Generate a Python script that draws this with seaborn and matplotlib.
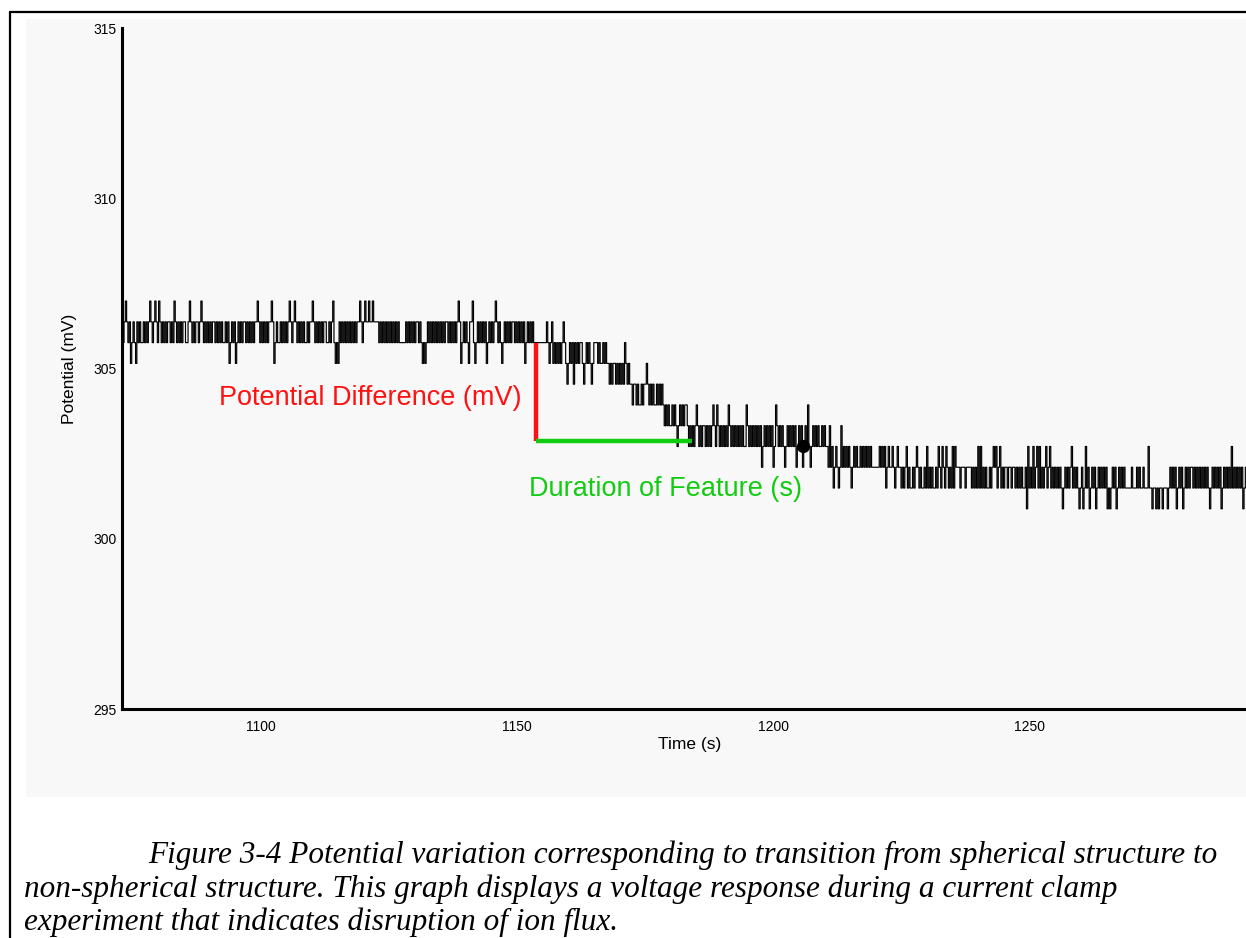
import numpy as np
import pandas as pd
import matplotlib
matplotlib.use("Agg")
import matplotlib.pyplot as plt
import seaborn as sns
from matplotlib.lines import Line2D
from matplotlib.patches import Rectangle
from matplotlib.ticker import MultipleLocator

# Quantised potential levels of the recording (mV); codes 0-9 and 'a' (=10)
levels_mv = [306.98, 306.37, 305.76, 305.15, 304.54, 303.93,
             303.32, 302.71, 302.10, 301.49, 300.88]

t_start = 1073.0   # s, first sample
dt = 0.25          # s between samples

# Level code of each sample, one row per 10 s (40 samples)
trace_codes = [
    "2101213212" "3121221212" "1012101201" "2121211212",
    "0121212112" "2101212112" "1012121212" "1121212122",
    "1213212132" "1212112121" "2121101212" "1212110132",
    "1221212121" "0121012121" "2122121101" "2121212112",
    "2121023231" "2121212121" "2121101210" "1101101111",
    "2121212121" "2121212222" "2121212121" "1212323212",
    "1212121212" "1211212121" "2101321212" "3110232121",
    "2121321212" "1012123212" "1212112121" "2121321212",
    "1222222222" "2123213232" "3232123432" "3242323223",
    "4323234322" "2323323233" "4343343434" "3423434454",
    "4545545443" "4545455454" "5456565665" "6567656565",
    "5676767656" "7676676767" "6567567676" "7675676767",
    "6767677567" "6767676768" "7676767687" "5676767876",
    "7676768767" "6876757876" "7676776767" "7868798789",
    "8687878789" "8787887878" "7878788888" "8787879878",
    "8789878898" "9879899898" "7898998979" "8989989789",
    "7897898979" "7888988898" "8889898979" "7989899898",
    "7879879898" "8988988989" "898998a798" "9798797989",
    "8798798989" "8989a98989" "8798989a98" "a9798a9898",
    "a98989898a" "9a9898a989" "8989999989" "9989899899",
    "9799a99a9a" "99a999a989" "898a9898a9" "8989889898",
    "989898989a" "98989898a9" "8989897989" "89898a9898",
]

# Marked sample on the trace
dot_time = 1205.9
dot_mv = 302.71

# Feature annotation: start time, start/end potential, end time
feature_start = 1153.7
feature_top_mv = 305.76
feature_bottom_mv = 302.87
feature_end = 1184.2

x_ticks = [1100, 1150, 1200, 1250]
y_ticks = [295, 300, 305, 310, 315]
x_label = "Time (s)"
y_label = "Potential (mV)"
diff_label = "Potential Difference (mV)"
dur_label = "Duration of Feature (s)"
caption_lines = [
    "Figure 3-4 Potential variation corresponding to transition from spherical structure to",
    "non-spherical structure. This graph displays a voltage response during a current clamp",
    "experiment that indicates disruption of ion flux.",
]

codes = "".join(trace_codes)
potential = [levels_mv[int(c, 16)] for c in codes]
times = t_start + dt * np.arange(len(potential))
df = pd.DataFrame({"time": times, "potential": potential})

sns.set_theme(style="white")
plt.rcParams["font.family"] = ["Liberation Sans", "DejaVu Sans"]

W, H = 1246, 938
fig = plt.figure(figsize=(W / 100, H / 100), dpi=100)
fig.patch.set_facecolor("white")


def fx(px):
    return px / W


def fy(py):
    return 1 - py / H


# light panel behind the chart
fig.add_artist(Rectangle((fx(26), fy(797)), fx(W - 26), (797 - 19) / H,
                         facecolor="#f8f8f8", edgecolor="none", zorder=0))
# page frame
fig.add_artist(Line2D([fx(10), fx(10)], [fy(12), fy(H + 5)], color="black", lw=1.6))
fig.add_artist(Line2D([fx(10), fx(W + 5)], [fy(12), fy(12)], color="black", lw=1.6))

x_left = 1072.85
x_right = 1294.5
px_per_s = 5.12
ax_w = (x_right - x_left) * px_per_s
ax = fig.add_axes([fx(122), fy(709), ax_w / W, (709 - 28) / H])
ax.set_facecolor("none")

sns.lineplot(data=df, x="time", y="potential", ax=ax, color="black",
             linewidth=0.85, drawstyle="steps-post", estimator=None,
             errorbar=None)
ax.plot([dot_time], [dot_mv], "o", color="black", markersize=8.5, zorder=5)

ax.plot([feature_start, feature_start], [feature_top_mv, feature_bottom_mv],
        color="#ff1111", lw=3.2, solid_capstyle="butt", zorder=6)
ax.plot([feature_start, feature_end], [feature_bottom_mv, feature_bottom_mv],
        color="#11cc11", lw=3.2, solid_capstyle="butt", zorder=6)
ax.text(1150.8, 304.13, diff_label, color="#ff1111", fontsize=19.5,
        ha="right", va="center")
ax.text(1152.3, 301.46, dur_label, color="#11cc11", fontsize=19.5,
        ha="left", va="center")

ax.set_xlim(x_left, x_right)
ax.set_ylim(295, 315)
ax.set_xticks(x_ticks)
ax.set_yticks(y_ticks)
ax.xaxis.set_minor_locator(MultipleLocator(25))
ax.yaxis.set_minor_locator(MultipleLocator(2.5))
ax.tick_params(which="both", direction="in", color="black", width=2,
               labelsize=10, labelcolor="black")
ax.tick_params(which="major", length=5)
ax.tick_params(which="minor", length=3.5)
ax.tick_params(axis="x", which="major", pad=8)
ax.tick_params(axis="y", which="major", pad=4)
for side in ("top", "right"):
    ax.spines[side].set_visible(False)
for side in ("left", "bottom"):
    ax.spines[side].set_color("black")
    ax.spines[side].set_linewidth(2.2)
ax.set_xlabel(x_label, fontsize=12.5, color="black", labelpad=2)
ax.set_ylabel(y_label, fontsize=12.5, color="black", labelpad=12)
ax.grid(False)

cap_kw = dict(fontsize=22.5, family="Liberation Serif", style="italic",
              color="black", va="baseline", ha="left")
fig.text(fx(148), fy(863), caption_lines[0], **cap_kw)
fig.text(fx(24), fy(897), caption_lines[1], **cap_kw)
fig.text(fx(24), fy(930), caption_lines[2], **cap_kw)

fig.savefig("out.png", dpi=100)
